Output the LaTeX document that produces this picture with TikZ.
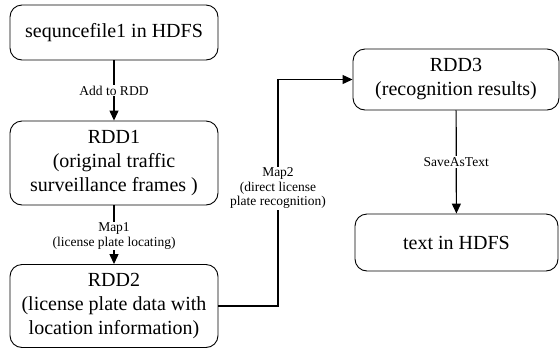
\documentclass[tikz,border=0pt]{standalone}
\usepackage{fontspec}
\setmainfont{Liberation Serif}
\usetikzlibrary{arrows.meta}
\tikzset{
	rddbox/.style={draw, rounded corners=12pt, line width=0.9pt, align=center, inner sep=0pt,
		font=\fontsize{20}{24}\selectfont},
	flow/.style={line width=1.2pt, -{Triangle[length=10pt,width=9pt]}},
	lbl/.style={fill=white, inner sep=1pt, align=center, font=\fontsize{13.5}{14.5}\selectfont}
}
\begin{document}
\begin{tikzpicture}[x=1pt, y=-1pt]
	\useasboundingbox (0,0) rectangle (560,349);
	%boxes
	\node[rddbox, minimum width=208pt, minimum height=55pt] (seq) at (114,32.5) {sequncefile1 in HDFS};
	\node[rddbox, minimum width=208pt, minimum height=84pt] (rdd1) at (114,163)
	{RDD1\\(original traffic\\surveillance frames )};
	\node[rddbox, minimum width=208pt, minimum height=83pt] (rdd2) at (114,306)
	{RDD2\\(license plate data with\\location information)};
	\node[rddbox, minimum width=206pt, minimum height=61pt] (rdd3) at (456,79.5)
	{RDD3\\(recognition results)};
	\node[rddbox, minimum width=203pt, minimum height=57pt] (out) at (456.5,242.5) {text in HDFS};
	%arrows
	\draw[flow] (seq) -- node[lbl] {Add to RDD} (rdd1);
	\draw[flow] (rdd1) -- node[lbl, yshift=-1pt] {Map1\\(license plate locating)} (rdd2);
	\coordinate (turn) at (278,306);
	\draw[flow] (rdd2.east) -- (turn) |- node[lbl, pos=0.26] {Map2\\(direct license\\plate recognition)} (rdd3.west);
	\draw[flow] (rdd3) -- node[lbl] {SaveAsText} (out);
\end{tikzpicture}
\end{document}
